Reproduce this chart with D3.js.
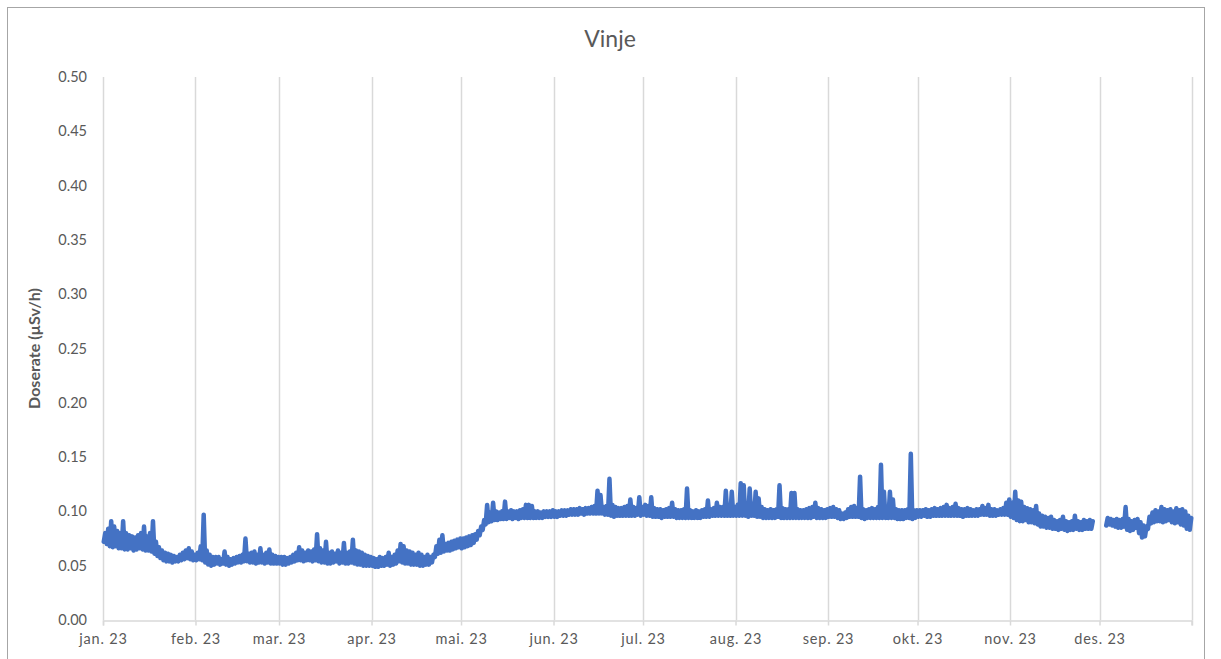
<!DOCTYPE html>
<html>
<head>
<meta charset="utf-8">
<script src="https://cdn.jsdelivr.net/npm/d3@7"></script>
<style>
  html, body { margin: 0; padding: 0; background: #fff; }
  svg { display: block; font-family: Lato, "Open Sans", sans-serif; }
</style>
</head>
<body>
<div id="chart"></div>
<script>

// Daily low / high dose rate (µSv/h), one row per month
const monthLabels = ["jan. 23", "feb. 23", "mar. 23", "apr. 23", "mai. 23", "jun. 23",
                     "jul. 23", "aug. 23", "sep. 23", "okt. 23", "nov. 23", "des. 23"];
const yTicks = [0, 0.05, 0.10, 0.15, 0.20, 0.25, 0.30, 0.35, 0.40, 0.45, 0.50];

const dailyHigh = [
  [0.080,0.084,0.091,0.086,0.082,0.080,0.091,0.080,0.078,0.077,0.076,0.078,0.080,0.086,0.077,0.080,0.091,0.072,0.067,0.064,0.062,0.061,0.060,0.059,0.058,0.060,0.062,0.064,0.066,0.063,0.060],
  [0.062,0.068,0.097,0.064,0.060,0.058,0.058,0.058,0.056,0.063,0.058,0.056,0.057,0.058,0.059,0.060,0.075,0.061,0.062,0.063,0.060,0.066,0.060,0.062,0.065,0.060,0.059,0.058],
  [0.058,0.058,0.057,0.058,0.060,0.062,0.067,0.064,0.062,0.064,0.063,0.065,0.079,0.066,0.064,0.072,0.062,0.063,0.061,0.064,0.062,0.071,0.062,0.063,0.074,0.064,0.063,0.062,0.060,0.059,0.058],
  [0.057,0.056,0.058,0.057,0.058,0.062,0.058,0.060,0.064,0.070,0.068,0.064,0.063,0.062,0.060,0.062,0.060,0.058,0.060,0.058,0.060,0.068,0.074,0.078,0.070,0.071,0.072,0.073,0.074,0.075],
  [0.075,0.076,0.077,0.078,0.079,0.082,0.086,0.092,0.106,0.099,0.108,0.100,0.099,0.100,0.109,0.100,0.101,0.100,0.100,0.101,0.102,0.106,0.106,0.105,0.100,0.100,0.099,0.100,0.100,0.100,0.101],
  [0.100,0.100,0.101,0.101,0.101,0.102,0.102,0.102,0.103,0.102,0.103,0.103,0.104,0.105,0.119,0.115,0.104,0.105,0.130,0.106,0.104,0.103,0.103,0.104,0.105,0.111,0.104,0.103,0.113,0.104],
  [0.106,0.105,0.113,0.103,0.102,0.102,0.101,0.102,0.103,0.108,0.102,0.101,0.101,0.102,0.121,0.101,0.100,0.101,0.100,0.101,0.102,0.110,0.102,0.103,0.108,0.104,0.104,0.119,0.105,0.118,0.104],
  [0.106,0.126,0.124,0.106,0.121,0.107,0.118,0.112,0.104,0.102,0.101,0.102,0.101,0.102,0.124,0.103,0.102,0.102,0.117,0.117,0.102,0.101,0.101,0.102,0.103,0.104,0.108,0.103,0.102,0.101,0.102],
  [0.103,0.104,0.102,0.101,0.098,0.099,0.102,0.104,0.105,0.103,0.132,0.102,0.101,0.102,0.103,0.102,0.104,0.143,0.118,0.103,0.118,0.111,0.102,0.101,0.101,0.101,0.102,0.153,0.101,0.101],
  [0.101,0.101,0.102,0.101,0.102,0.103,0.102,0.103,0.104,0.106,0.103,0.104,0.107,0.103,0.102,0.102,0.103,0.102,0.101,0.102,0.102,0.105,0.103,0.106,0.102,0.102,0.101,0.102,0.103,0.108,0.111],
  [0.108,0.118,0.110,0.109,0.104,0.103,0.102,0.101,0.105,0.098,0.096,0.095,0.094,0.095,0.092,0.091,0.092,0.095,0.091,0.090,0.091,0.096,0.091,0.090,0.092,0.091,0.092,0.091,null,null],
  [null,null,0.094,0.093,0.092,0.093,0.092,0.093,0.104,0.093,0.091,0.092,0.093,0.090,0.087,0.086,0.095,0.099,0.101,0.100,0.104,0.102,0.101,0.102,0.100,0.103,0.101,0.102,0.100,0.096,0.094]
];

const dailyLow = [
  [0.072,0.070,0.068,0.067,0.068,0.066,0.066,0.065,0.065,0.066,0.064,0.065,0.066,0.065,0.064,0.064,0.063,0.061,0.059,0.057,0.055,0.054,0.054,0.053,0.054,0.054,0.055,0.056,0.057,0.056,0.055],
  [0.055,0.056,0.055,0.053,0.051,0.050,0.051,0.052,0.051,0.052,0.051,0.050,0.051,0.052,0.053,0.053,0.054,0.054,0.053,0.053,0.052,0.053,0.053,0.052,0.053,0.052,0.052,0.052],
  [0.052,0.051,0.051,0.052,0.053,0.054,0.055,0.055,0.054,0.055,0.055,0.054,0.055,0.054,0.053,0.053,0.052,0.052,0.053,0.054,0.052,0.053,0.052,0.052,0.053,0.052,0.051,0.051,0.050,0.050,0.050],
  [0.050,0.049,0.049,0.050,0.050,0.051,0.050,0.051,0.052,0.054,0.053,0.052,0.052,0.051,0.051,0.051,0.050,0.050,0.051,0.051,0.053,0.058,0.061,0.062,0.063,0.064,0.064,0.065,0.066,0.067],
  [0.066,0.067,0.068,0.069,0.071,0.074,0.078,0.083,0.088,0.090,0.091,0.092,0.092,0.093,0.093,0.093,0.094,0.093,0.094,0.093,0.094,0.094,0.094,0.094,0.094,0.094,0.094,0.094,0.095,0.095,0.095],
  [0.095,0.095,0.096,0.096,0.096,0.097,0.097,0.097,0.097,0.098,0.097,0.098,0.098,0.098,0.098,0.098,0.098,0.097,0.097,0.096,0.095,0.096,0.096,0.096,0.096,0.096,0.096,0.096,0.097,0.096],
  [0.097,0.096,0.096,0.095,0.095,0.095,0.094,0.095,0.095,0.095,0.095,0.094,0.094,0.094,0.094,0.094,0.094,0.094,0.094,0.094,0.095,0.095,0.095,0.096,0.096,0.096,0.096,0.096,0.096,0.096,0.096],
  [0.096,0.096,0.096,0.096,0.095,0.096,0.096,0.095,0.095,0.094,0.094,0.094,0.094,0.094,0.095,0.094,0.094,0.094,0.094,0.094,0.094,0.094,0.094,0.094,0.094,0.094,0.095,0.094,0.094,0.094,0.094],
  [0.095,0.095,0.095,0.094,0.093,0.093,0.094,0.095,0.095,0.095,0.095,0.094,0.093,0.094,0.094,0.094,0.094,0.094,0.094,0.094,0.094,0.094,0.094,0.093,0.093,0.093,0.094,0.094,0.093,0.094],
  [0.095,0.095,0.096,0.095,0.095,0.096,0.096,0.096,0.096,0.096,0.096,0.096,0.096,0.096,0.096,0.095,0.096,0.096,0.096,0.096,0.096,0.097,0.097,0.097,0.096,0.096,0.096,0.097,0.097,0.097,0.097],
  [0.095,0.094,0.092,0.091,0.091,0.092,0.090,0.090,0.089,0.088,0.086,0.086,0.085,0.085,0.084,0.084,0.083,0.084,0.083,0.082,0.083,0.083,0.084,0.083,0.083,0.084,0.084,0.084,null,null],
  [null,null,0.087,0.088,0.087,0.086,0.085,0.085,0.086,0.083,0.082,0.083,0.085,0.080,0.076,0.077,0.084,0.089,0.090,0.091,0.091,0.090,0.091,0.092,0.090,0.089,0.090,0.088,0.087,0.084,0.083]
];

// Dimensions
const width = 1221;
const height = 659;
const margin = { top: 77, right: 29, bottom: 39, left: 103 };

// build the series: two readings a day (low at 06h, high at 18h)
const series = [];
dailyHigh.forEach((month, m) => {
  month.forEach((hi, i) => {
    const lo = dailyLow[m][i];
    series.push({ date: new Date(2023, m, i + 1, 6), v: lo });
    series.push({ date: new Date(2023, m, i + 1, 18), v: hi });
  });
});

const x = d3.scaleTime()
  .domain([new Date(2023, 0, 1), new Date(2024, 0, 1)])
  .range([margin.left, width - margin.right]);

const y = d3.scaleLinear()
  .domain([0, 0.5])
  .range([height - margin.bottom, margin.top]);

const svg = d3.select("#chart").append("svg")
  .attr("width", width)
  .attr("height", height);

// chart border
svg.append("rect")
  .attr("x", 7.5).attr("y", 7.5)
  .attr("width", 1197).attr("height", 670)
  .attr("fill", "#fff")
  .attr("stroke", "#a6a6a6");

// title
svg.append("text")
  .attr("x", 610).attr("y", 47)
  .attr("text-anchor", "middle")
  .attr("font-size", 23)
  .attr("fill", "#595959")
  .text("Vinje");

const monthStarts = d3.timeMonth.range(new Date(2023, 0, 1), new Date(2024, 0, 2));

// vertical gridlines
svg.append("g")
  .selectAll("line")
  .data(monthStarts)
  .join("line")
  .attr("x1", d => Math.round(x(d)) + 0.5)
  .attr("x2", d => Math.round(x(d)) + 0.5)
  .attr("y1", y(0.5))
  .attr("y2", y(0))
  .attr("stroke", "#d9d9d9")
  .attr("stroke-width", 1.5);

// x axis
const xAxis = d3.axisBottom(x)
  .tickValues(monthStarts.slice(0, 12))
  .tickSize(5)
  .tickPadding(8)
  .tickFormat((d, i) => monthLabels[i]);

const gx = svg.append("g")
  .attr("transform", `translate(0,${y(0) + 0.5})`)
  .call(xAxis);
gx.select(".domain").attr("stroke", "#d9d9d9").attr("stroke-width", 1.5);
gx.selectAll(".tick line").attr("stroke", "#d9d9d9").attr("stroke-width", 1.5);
gx.selectAll(".tick text")
  .attr("font-size", 14.5)
  .attr("letter-spacing", 0.8)
  .attr("fill", "#595959")
  .attr("font-family", "Lato, sans-serif");
// tick at the year end too
gx.append("line")
  .attr("x1", x(new Date(2024, 0, 1))).attr("x2", x(new Date(2024, 0, 1)))
  .attr("y1", 0).attr("y2", 5)
  .attr("stroke", "#d9d9d9").attr("stroke-width", 1.5);

// y axis labels
svg.append("g")
  .selectAll("text")
  .data(yTicks)
  .join("text")
  .attr("x", 87)
  .attr("y", d => y(d))
  .attr("dy", "0.35em")
  .attr("text-anchor", "end")
  .attr("font-size", 14.5)
  .attr("fill", "#595959")
  .text(d => d.toFixed(2));

// y axis title
svg.append("text")
  .attr("transform", `translate(40,${(y(0) + y(0.5)) / 2}) rotate(-90)`)
  .attr("text-anchor", "middle")
  .attr("font-size", 16)
  .attr("font-weight", "bold")
  .attr("fill", "#595959")
  .text("Doserate (µSv/h)");

// the data line
const line = d3.line()
  .defined(d => d.v != null)
  .x(d => x(d.date))
  .y(d => y(d.v));

svg.append("path")
  .datum(series)
  .attr("fill", "none")
  .attr("stroke", "#4472c4")
  .attr("stroke-width", 4.5)
  .attr("stroke-linejoin", "round")
  .attr("stroke-linecap", "round")
  .attr("d", line);

</script>
</body>
</html>
